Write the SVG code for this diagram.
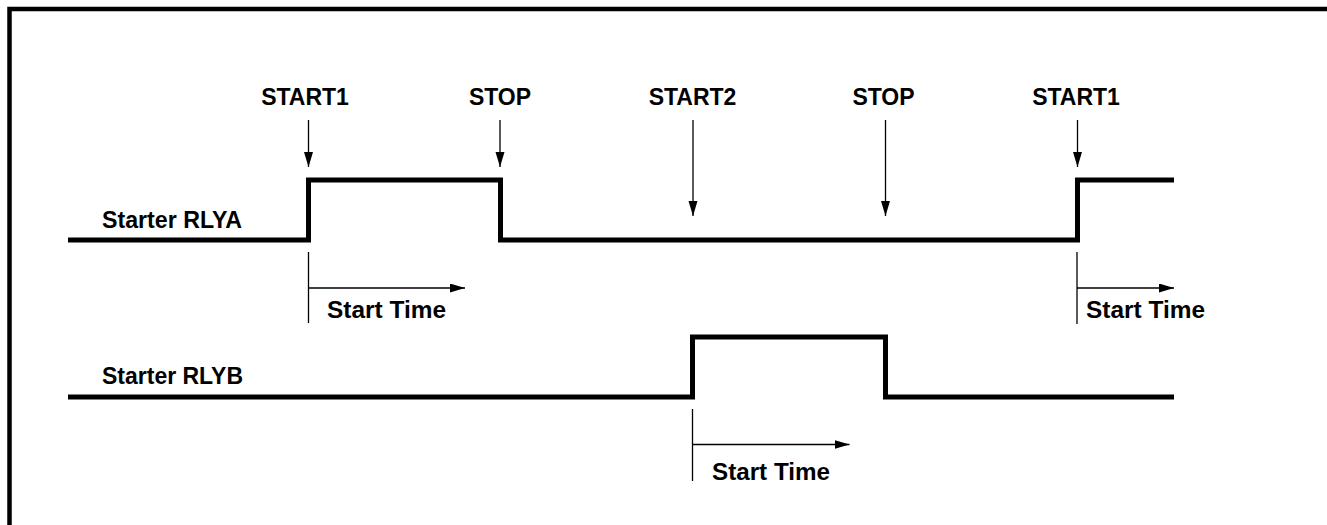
<svg xmlns="http://www.w3.org/2000/svg" width="1327" height="525" viewBox="0 0 1327 525">
<defs>
<style>
.lbl{font-family:"Liberation Sans",Arial,Helvetica,sans-serif;font-weight:bold;font-size:23px;fill:#000}
.sig{fill:none;stroke:#000;stroke-width:5;stroke-linejoin:miter;stroke-linecap:butt}
.thin{fill:none;stroke:#000;stroke-width:1.3}
.arr{fill:none;stroke:#000;stroke-width:1.3;marker-end:url(#ah)}
</style>
<marker id="ah" markerUnits="userSpaceOnUse" markerWidth="16" markerHeight="10" refX="15" refY="4.5" orient="auto">
<path d="M0,0 L15,4.5 L0,9 z" fill="#000"/>
</marker>
</defs>
<rect width="1327" height="525" fill="#fff"/>
<g id="frame">
<path d="M9.5,525 V9 H1327" fill="none" stroke="#000" stroke-width="4.5"/>
</g>
<g id="signal-rlya">
<text class="lbl" x="102" y="228" textLength="140" lengthAdjust="spacingAndGlyphs">Starter RLYA</text>
<path class="sig" d="M68,240 H308.5 V180 H500.5 V240 H1077.5 V180 H1174"/>
</g>
<g id="signal-rlyb">
<text class="lbl" x="102" y="384" textLength="141" lengthAdjust="spacingAndGlyphs">Starter RLYB</text>
<path class="sig" d="M68,397 H692.5 V337 H885.5 V397 H1174"/>
</g>
<g id="events">
<text class="lbl" x="305" y="105" text-anchor="middle">START1</text>
<text class="lbl" x="500" y="105" text-anchor="middle">STOP</text>
<text class="lbl" x="692.5" y="105" text-anchor="middle">START2</text>
<text class="lbl" x="883.5" y="105" text-anchor="middle">STOP</text>
<text class="lbl" x="1076" y="105" text-anchor="middle">START1</text>
</g>
<g id="start-time-labels">
<text class="lbl" x="327" y="318" textLength="119" lengthAdjust="spacingAndGlyphs">Start Time</text>
<text class="lbl" x="1086" y="318" textLength="119" lengthAdjust="spacingAndGlyphs">Start Time</text>
<text class="lbl" x="712" y="480" textLength="118" lengthAdjust="spacingAndGlyphs">Start Time</text>
</g>
<g id="connectors">
<line class="arr" x1="308.5" y1="120" x2="308.5" y2="167"/>
<line class="arr" x1="500" y1="120" x2="500" y2="167"/>
<line class="arr" x1="693" y1="120" x2="693" y2="216"/>
<line class="arr" x1="885.5" y1="120" x2="885.5" y2="216"/>
<line class="arr" x1="1077.5" y1="120" x2="1077.5" y2="167"/>
<line class="thin" x1="308.5" y1="252" x2="308.5" y2="323"/>
<line class="arr" x1="308.5" y1="288" x2="465" y2="288"/>
<line class="thin" x1="1077" y1="252" x2="1077" y2="324"/>
<line class="arr" x1="1077" y1="288" x2="1174" y2="288"/>
<line class="thin" x1="692.5" y1="409" x2="692.5" y2="481"/>
<line class="arr" x1="692.5" y1="444.5" x2="849.5" y2="444.5"/>
</g>
</svg>
